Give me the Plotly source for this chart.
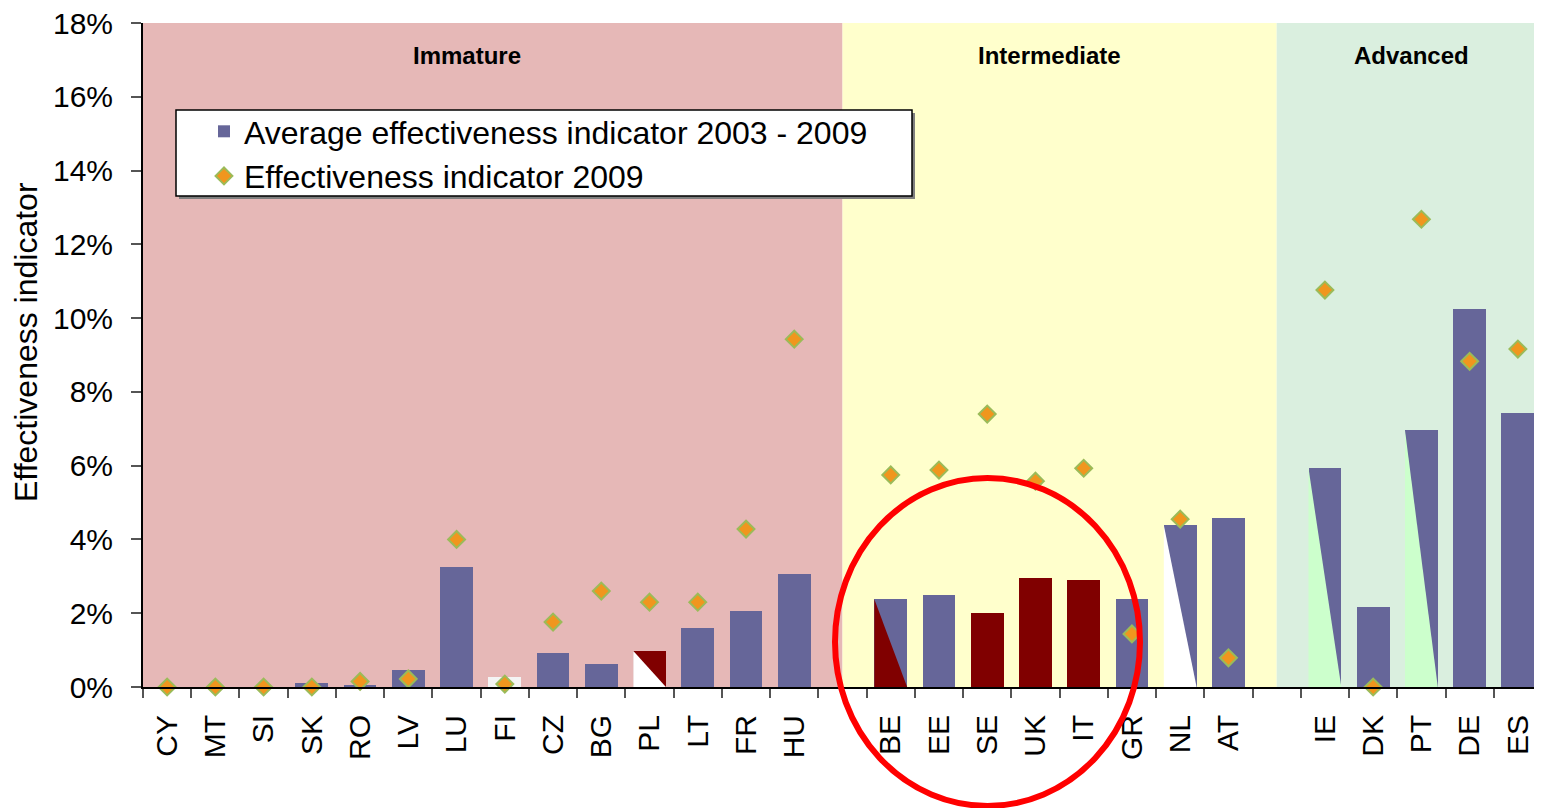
import plotly.graph_objects as go

# ---------------- data ----------------
categories = ["CY", "MT", "SI", "SK", "RO", "LV", "LU", "FI", "CZ", "BG", "PL", "LT", "FR", "HU",
              "",
              "BE", "EE", "SE", "UK", "IT", "GR", "NL", "AT",
              " ",
              "IE", "DK", "PT", "DE", "ES"]

avg_2003_2009 = [0.0, 0.0, 0.0, 0.10, 0.05, 0.45, 3.25, 0.27, 0.92, 0.62, 0.98, 1.60, 2.06, 3.06,
                 None,
                 2.38, 2.49, 2.00, 2.95, 2.90, 2.38, 4.39, 4.58,
                 None,
                 5.93, 2.17, 6.96, 10.24, 7.42]

ind_2009 = [0.0, 0.0, 0.0, 0.0, 0.15, 0.22, 4.00, 0.08, 1.76, 2.60, 2.30, 2.30, 4.28, 9.43,
            None,
            5.75, 5.88, 7.40, 5.58, 5.93, 1.44, 4.55, 0.79,
            None,
            10.76, 0.0, 12.68, 8.83, 9.16]

PURPLE = "#666699"
DARKRED = "#800000"
WHITE = "#F4F4F4"
LGREEN = "#CCFFCC"

# upper-right colour of each bar and lower-left (diagonal) colour of each bar
bar_upper = [PURPLE] * 7 + [WHITE] + [PURPLE, PURPLE, DARKRED, PURPLE, PURPLE, PURPLE] + [PURPLE] + \
            [PURPLE, PURPLE, DARKRED, DARKRED, DARKRED, PURPLE, PURPLE, PURPLE] + [PURPLE] + \
            [PURPLE, PURPLE, PURPLE, PURPLE, PURPLE]
bar_lower = list(bar_upper)
bar_lower[categories.index("PL")] = "#FFFFFF"
bar_lower[categories.index("BE")] = DARKRED
bar_lower[categories.index("NL")] = "#FFFFFF"
bar_lower[categories.index("IE")] = LGREEN
bar_lower[categories.index("PT")] = LGREEN

groups = ["Immature", "Intermediate", "Advanced"]
group_bounds = [(-0.5, 14), (14, 23), (23, 28.5)]
group_colors = ["#E6B8B7", "#FFFFCC", "#DAEFDF"]
group_label_x = [6.22, 18.3, 25.8]

tick_vals = [0, 0.02, 0.04, 0.06, 0.08, 0.10, 0.12, 0.14, 0.16, 0.18]

BAR_W = 0.68
xs = list(range(len(categories)))

# plot-area geometry (screen pixels) used to place paper-referenced decorations
PL_X, PL_W, PL_Y0, PL_H = 143, 1399, 687, 664


def px(x):
    return (x - PL_X) / PL_W


def py(y):
    return (PL_Y0 - y) / PL_H


fig = go.Figure()

# background zones
for (x0, x1), col in zip(group_bounds, group_colors):
    fig.add_shape(type="rect", xref="x", yref="paper", x0=x0, x1=x1, y0=0, y1=1,
                  fillcolor=col, line_width=0, layer="below")

# bars
fig.add_trace(go.Bar(
    x=xs, y=[None if v is None else v / 100 for v in avg_2003_2009],
    width=BAR_W, marker=dict(color=bar_upper, line_width=0),
    name="Average effectiveness indicator 2003 - 2009",
    hoverinfo="skip",
))

# diagonal lower-left triangles for split bars
for i, (v, up, lo) in enumerate(zip(avg_2003_2009, bar_upper, bar_lower)):
    if v is None or up == lo:
        continue
    L, R, top = i - BAR_W / 2, i + BAR_W / 2, v / 100
    fig.add_trace(go.Scatter(
        x=[L, L, R, L], y=[0, top, 0, 0], mode="lines", fill="toself",
        fillcolor=lo, line=dict(width=0, color=lo), showlegend=False, hoverinfo="skip",
    ))

# diamonds
fig.add_trace(go.Scatter(
    x=xs, y=[None if v is None else v / 100 for v in ind_2009], mode="markers",
    marker=dict(symbol="diamond", size=13, color="#F0961E",
                line=dict(color="#9BBB59", width=2)),
    name="Effectiveness indicator 2009", cliponaxis=False,
))

# group labels
for g, gx in zip(groups, group_label_x):
    fig.add_annotation(text="<b>%s</b>" % g, x=gx, xref="x", y=py(55), yref="paper",
                       xanchor="center", yanchor="middle",
                       showarrow=False, font=dict(size=24, color="black",
                                                  family="Liberation Sans, Arial"))

# y-axis title
fig.add_annotation(text="Effectiveness indicator", textangle=-90, x=px(26), xref="paper",
                   y=py(342), yref="paper", xanchor="center", yanchor="middle",
                   showarrow=False, font=dict(size=32, color="black"))

# legend box with shadow
fig.add_shape(type="rect", xref="paper", yref="paper",
              x0=px(179), x1=px(915), y0=py(199), y1=py(113),
              fillcolor="#7F7F7F", line_width=0, layer="above")
fig.add_shape(type="rect", xref="paper", yref="paper",
              x0=px(176), x1=px(912), y0=py(196), y1=py(110),
              fillcolor="white", line=dict(color="black", width=1.5), layer="above")

# red ellipse highlight
fig.add_shape(type="circle", xref="paper", yref="paper",
              x0=px(835), x1=px(1140), y0=py(806), y1=py(478),
              line=dict(color="#FF0000", width=6), fillcolor="rgba(0,0,0,0)", layer="above")

fig.update_layout(
    width=1542, height=808,
    margin=dict(l=135, r=8, t=15, b=129, autoexpand=False),
    paper_bgcolor="white", plot_bgcolor="white",
    font=dict(family="Liberation Sans, Arial", color="black"),
    bargap=0,
    showlegend=True,
    legend=dict(x=px(204), y=py(104), xanchor="left", yanchor="top",
                bgcolor="rgba(0,0,0,0)", borderwidth=0,
                font=dict(size=32, color="black"), itemwidth=30,
                tracegroupgap=0, traceorder="normal"),
    xaxis=dict(range=[-0.5, 28.5], tickmode="array", tickvals=xs, ticktext=categories,
               tickangle=-90, ticks="", showgrid=False, zeroline=False, automargin=False,
               showline=True, linecolor="black", linewidth=2,
               tickfont=dict(size=30, color="black"), ticklabelstandoff=14,
               minor=dict(tickmode="array", tickvals=[i - 0.5 for i in range(len(categories) + 1)],
                          ticks="outside", ticklen=9, tickcolor="#555555", tickwidth=2,
                          showgrid=False)),
    yaxis=dict(range=[0, 0.18], tickmode="array", tickvals=tick_vals, tickformat=".0%",
               ticks="outside", ticklen=10, tickcolor="#555555", tickwidth=2, automargin=False,
               showgrid=False, zeroline=False, showline=True, linecolor="black", linewidth=2,
               tickfont=dict(size=30, color="black"), ticklabelstandoff=12,
               ticklabeloverflow="allow"),
)

fig.write_html("out.html")
